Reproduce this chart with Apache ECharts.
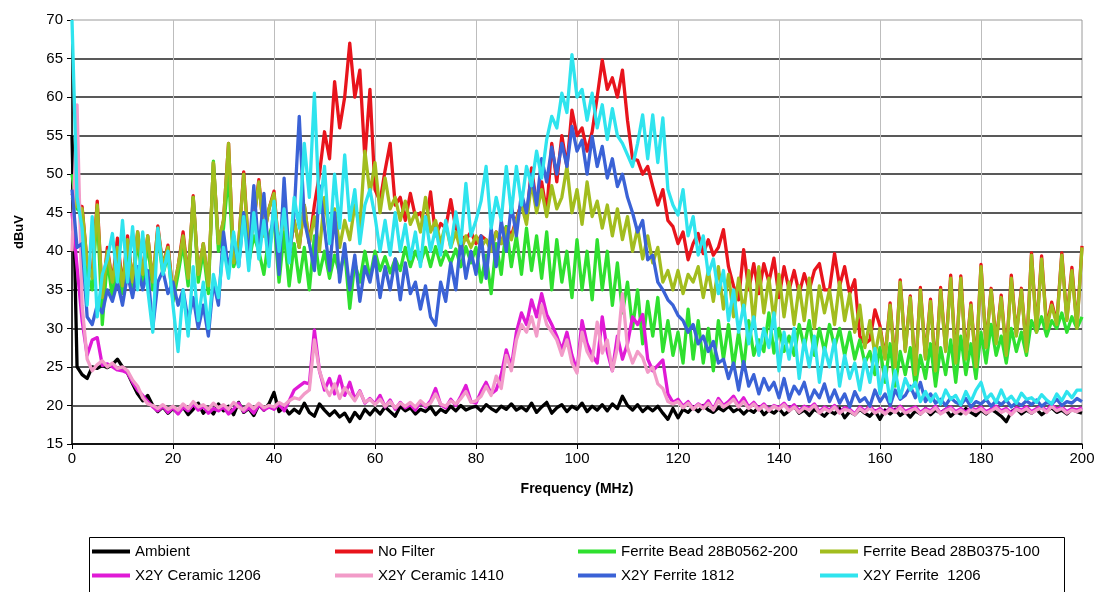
<!DOCTYPE html>
<html>
<head>
<meta charset="utf-8">
<script src="https://cdn.jsdelivr.net/npm/echarts@6/dist/echarts.min.js"></script>
<style>
html,body{margin:0;padding:0;background:#fff;}
#chart{width:1109px;height:592px;}
</style>
</head>
<body>
<div id="chart"></div>
<script>
// Frequency grid (MHz), 1 MHz steps from 0 to 200
const FREQ = Array.from({length: 201}, (_, i) => i);
const X_TICKS = [0, 20, 40, 60, 80, 100, 120, 140, 160, 180, 200];
const Y_TICKS = [15, 20, 25, 30, 35, 40, 45, 50, 55, 60, 65, 70];

const SERIES_NAMES = ['Ambient', 'No Filter', 'Ferrite Bead 28B0562-200', 'Ferrite Bead 28B0375-100',
  'X2Y Ceramic 1206', 'X2Y Ceramic 1410', 'X2Y Ferrite 1812', 'X2Y Ferrite  1206'];

const ambient = [55, 25, 24, 23.5, 25, 24.8, 25.2, 24.9, 25.3, 26,
25, 24.2, 22.8, 21.5, 20.6, 21.3, 20, 19.2, 19.8, 19,
19.6, 19, 19.8, 18.8, 19.5, 20.3, 19, 19.7, 18.9, 20.2,
19.3, 19.9, 18.8, 20.4, 19.1, 19.6, 18.7, 20.1, 19.4, 20.2,
21.7, 19.2, 19.8, 18.9, 19.5, 19, 20.3, 19.1, 18.6, 20.2,
19.4, 18.7, 19.3, 18.5, 19, 17.9, 19.1, 18.3, 19.5, 18.8,
19.6, 18.9, 19.8, 19.2, 18.6, 19.9, 19.3, 19.7, 18.9, 19.5,
19.2, 19.8, 18.8, 19.5, 19.1, 19.9, 19.3, 20, 19.4, 19.7,
19.9, 19.3, 20.1, 19.6, 19.2, 19.9, 19.5, 20.2, 19.4, 19.8,
19.3, 20.3, 19.1, 19.8, 20.4, 19, 19.7, 20.1, 19.2, 19.9,
19.5, 20.3, 19.2, 19.9, 19.4, 20.1, 19.3, 20.2, 19.6, 21.2,
20, 19.4, 20.1, 19.2, 19.8, 19.3, 19.9, 19, 18.2, 19.6,
18.4, 19.5, 19.1, 19.8, 19.2, 20, 19.4, 19.1, 19.7, 19.3,
19.9, 19.2, 19.6, 18.9, 19.5, 19.1, 19.8, 18.8, 19.4, 19,
19.6, 18.8, 19.3, 19.9, 19, 19.4, 18.7, 19.5, 19.1, 18.6,
19.3, 18.9, 19.6, 18.4, 19.2, 18.8, 19.5, 19, 18.6, 19.3,
18.2, 19.4, 18.9, 19.5, 18.7, 19.2, 18.5, 19.3, 18.9, 19.6,
18.8, 19.4, 19, 19.5, 18.6, 19.2, 18.9, 19.6, 19.1, 18.7,
19.4, 18.9, 19.5, 19.1, 18.6, 17.9, 19.2, 19.6, 18.9, 19.4,
19, 19.5, 18.8, 19.3, 19.7, 19.1, 19.4, 18.9, 19.5, 19.2,
19];

const noFilter = [47.5, 46, 45.8, 38.5, 37, 46.5, 34, 40.5, 36, 41.7,
35.5, 42, 36, 42.5, 37, 42, 36, 43.3, 38, 40.8,
34.5, 38, 42.5, 36.5, 47.2, 37, 41, 35.5, 51.5, 41,
44, 54, 38.5, 41, 50.3, 40, 44, 49.3, 42, 45.5,
47.8, 40, 45, 39.5, 44, 40.5, 46, 41, 46, 50,
55.5, 52, 62, 56, 60, 67, 60, 63.5, 52, 61,
48, 46.5, 50.5, 54, 46, 47, 44, 47.5, 44.5, 45,
43, 47.7, 42, 43.6, 43, 46.7, 43, 42, 41.5, 42.5,
41, 42, 41.5, 40.5, 42.5, 41, 43.2, 42, 44.2, 46.3,
44, 50.8, 46, 49, 45, 54, 49, 55, 51, 58.3,
55, 56, 53, 55.5, 60, 64.8, 61, 62.5, 60, 63.5,
57, 52, 51.8, 50, 51, 48.4, 46, 48, 44, 43.2,
41, 42.5, 38.9, 41, 42.3, 39.7, 41.5, 39.5, 40.5, 42.8,
38, 35.5, 33.7, 40.2, 35, 38.4, 34.5, 38.4, 36, 39.1,
34, 38, 35, 37.5, 34.5, 37.1, 35, 37.5, 38.4, 35,
35, 39.7, 35.5, 38, 34.5, 36.3, 29, 28, 28.5, 32.4,
30.3, 26.2, 33.3, 25.2, 36.3, 27.2, 34.2, 24.2, 35.3, 26.2,
33.8, 24.7, 35.3, 27.2, 36.9, 25.7, 36.8, 26.2, 33.3, 25.2,
38.3, 27.7, 35.2, 28.2, 34.3, 26.7, 36.9, 29.2, 35.2, 27.2,
39.8, 29.7, 39.4, 30.2, 33.4, 30.7, 39.8, 31.2, 37.9, 30.2,
40.7];

const ferrite200 = [50, 45.5, 45, 37, 35, 45.5, 30.5, 39, 34, 39,
34.5, 40.5, 35, 41.5, 36, 41, 35, 42, 37, 39.5,
33.5, 37, 41, 35.5, 47, 36, 40, 34.5, 51.7, 40,
43, 50, 38, 40, 45, 38.5, 42, 40, 37, 42,
44, 36, 42.5, 35.5, 41, 36, 40.5, 35, 42, 37,
40, 36.5, 39.5, 37, 40, 32.6, 38.5, 36, 40, 36.5,
40, 37.5, 39.3, 37.2, 39, 37.5, 40.5, 38, 40, 38.5,
40.5, 38, 40.6, 38.2, 40, 38.5, 40.3, 38, 40.6, 38.5,
40.5, 36, 39.5, 34.5, 41, 37, 43.2, 38, 42, 37,
43, 37.5, 42, 36.5, 42.5, 35, 41.5, 36, 40, 34,
41.5, 35, 40, 33.7, 41.5, 35, 40, 33, 38.5, 32,
36, 30, 35, 28, 33.5, 29, 34, 27, 31, 26.5,
29.5, 25.5, 32.5, 26, 31, 25.5, 30, 24.5, 31, 26,
30.5, 25, 29.5, 24.8, 31, 26.5, 28.5, 27, 32, 26.8,
30, 27, 29, 26.5, 30.5, 27.5, 31, 26.5, 30, 27,
30.5, 27.5, 30, 26.5, 29.5, 26, 28.5, 25.5, 27, 24,
27.5, 23, 28, 22.5, 27, 24, 27.5, 22.5, 26.5, 23.5,
28, 22.5, 27.5, 24, 28.5, 23, 29, 24, 28, 23.5,
29.5, 25.5, 30.5, 26.5, 29, 25.5, 30, 27, 29.5, 26.5,
31, 29.5, 31.5, 29, 31, 30, 32, 29.5, 31.5, 30,
31.5];

const ferrite100 = [47, 45.8, 45.5, 38.5, 36.5, 46, 34, 40, 36, 40.5,
35.5, 41.5, 36, 42.5, 37, 42, 36, 43, 38, 40.5,
34.5, 38, 42, 36.5, 47, 37, 41, 35.5, 51.5, 41,
44, 54, 38.5, 41, 50, 40, 44, 49, 42, 45.5,
47.5, 40, 45, 39.5, 44, 40.5, 46, 41, 44.5, 40,
47, 42, 45.5, 40.5, 44, 41.5, 46, 43, 53, 47.5,
51.5, 45, 49.5, 45.5, 47, 44, 46.5, 43.5, 45, 42.5,
47, 42.5, 44, 41, 43.5, 40.5, 42.5, 40, 42, 40.5,
42, 40.5, 41.5, 40, 42.5, 41, 43, 41.5, 44, 46,
43.5, 49, 45, 48, 44.5, 48.5, 45.5, 47, 51, 45,
48, 43.5, 49, 44.5, 46.5, 43, 46, 42, 45.5, 41.5,
44.5, 40, 43, 39, 42, 38.5, 40.5, 36, 37.5, 35,
37.5, 34.5, 37, 36, 38, 34, 37.5, 33.5, 38, 32.5,
37, 31.5, 36.5, 32, 37.5, 30.5, 38, 32, 36.5, 31,
37, 31.5, 36, 30.5, 35.5, 31, 36.5, 30, 35.5, 32,
35, 30.5, 36, 31, 34.5, 29.5, 33, 27.5, 31, 26.5,
30, 26, 33, 25, 36, 27, 34, 24, 35, 26,
33.5, 24.5, 35, 27, 36.5, 25.5, 36.5, 26, 33, 25,
38, 27.5, 35, 28, 34, 26.5, 36.5, 29, 35, 27,
39.5, 29.5, 39, 30, 33, 30.5, 39.5, 31, 37.5, 30,
40.5];

const ceramic1206 = [45, 38, 31, 26.5, 28.5, 28.8, 25.2, 25.4, 25, 24.6,
24.5, 24.2, 23, 22, 21.3, 20.5, 19.8, 19.3, 19.9, 19.1,
19.7, 18.9, 19.8, 19.3, 20.2, 19.4, 19.9, 19, 19.6, 19.3,
19.8, 18.9, 19.5, 20.3, 19.2, 19.7, 19, 20.1, 19.4, 19.8,
19.5, 20.2, 19.3, 20.6, 22, 22.5, 23, 22.8, 29.8, 24.5,
22, 23.5, 21.5, 23.8, 21.3, 23, 20.8, 21.9, 20.3, 20.9,
20.2, 21.3, 19.8, 20.7, 19.5, 20.4, 19.7, 20.1, 19.4, 20.5,
19.8, 20.6, 22.2, 20.1, 19.7, 20.8, 20, 21.2, 22.6, 20.5,
20.3, 21.8, 23, 21.5, 22, 24, 27.2, 25, 29.5, 32,
30.5, 33.7, 31.5, 34.5, 31.8, 30.5, 29, 27.2, 29.5, 26.5,
24.5, 31, 28, 26.5, 25.5, 31.5, 27, 24.5, 29, 26,
28, 31.5, 30.5, 31.8, 26, 24.5, 25.2, 25.9, 21.5, 20.4,
20.8, 19.9, 20.5, 19.6, 20.2, 19.8, 20.6, 19.5, 20.9, 20,
20.5, 21.2, 20.1, 21, 19.8, 20.4, 19.6, 20.2, 19.4, 20,
19.7, 20.3, 19.5, 20.1, 19.3, 19.9, 19.6, 20.2, 19.2, 19.8,
19.4, 20, 19.1, 19.7, 19.5, 18.9, 19.8, 19.3, 19.9, 19.2,
19.6, 19, 19.7, 19.3, 19.9, 19.2, 19.5, 19.8, 19.1, 19.6,
19.3, 19.9, 19, 19.5, 19.8, 19.2, 19.6, 19.1, 19.7, 19.4,
19.8, 19.2, 19.5, 19.9, 19.3, 19.6, 19, 19.7, 19.4, 19.8,
19.2, 19.6, 19.9, 19.3, 20.1, 19.5, 19.8, 19.2, 19.6, 19.4,
19.7];

const ceramic1410 = [40, 59, 33, 26, 24.5, 25.3, 25.8, 25, 25.5, 24.8,
25, 24.5, 23.3, 22.5, 21, 20.2, 20, 19.6, 20.1, 19.5,
19.9, 19.4, 20.2, 19.6, 20.5, 19.8, 20.1, 19.5, 20.3, 19.7,
20.1, 19.5, 20.4, 19.8, 19.4, 20.2, 19.6, 20.3, 19.7, 20,
19.8, 20.4, 20, 20.6, 21, 20.8, 21.5, 22, 28.5, 24.5,
22.5, 21.3, 22.8, 20.9, 22.3, 21.5, 20.6, 21.8, 20.4, 20.8,
20.1, 20.8, 19.9, 20.5, 19.7, 20.3, 19.9, 20.4, 19.8, 20.6,
20, 20.3, 21.5, 20.2, 19.9, 20.6, 20.2, 20.9, 21.8, 20.4,
20.6, 21.2, 22.5, 21.3, 23.8, 22.2, 26.5, 24.5, 28.5, 30.5,
29.5, 31.5, 29, 33, 30.5, 29.5, 28.5, 26.5, 28.5, 25.5,
24.2, 29.5, 27, 25.8, 30.8, 26.8, 28.5, 24.5, 27.5, 34.5,
27.5, 25.5, 27, 26.2, 24.3, 25, 22.8, 22.2, 20.5, 20.2,
20.5, 19.7, 20.3, 19.5, 20.1, 19.6, 20.3, 19.4, 20.6, 19.8,
20.2, 20.8, 19.8, 20.5, 19.6, 20.2, 19.4, 20, 19.3, 19.9,
19.5, 20.1, 19.3, 19.8, 19.1, 19.7, 19.4, 20, 19, 19.6,
19.2, 19.8, 19, 19.5, 19.3, 18.8, 19.6, 19.1, 19.7, 19,
19.4, 18.9, 19.5, 19.1, 19.7, 19, 19.3, 19.6, 18.9, 19.4,
19.1, 19.7, 18.9, 19.3, 19.6, 19, 19.4, 18.9, 19.5, 19.2,
19.6, 19, 19.3, 19.7, 19.1, 19.4, 18.8, 19.5, 19.2, 19.6,
19, 19.4, 19.7, 19.1, 19.9, 19.3, 19.6, 19, 19.4, 19.2,
19.5];

const ferrite1812 = [48, 40.5, 41, 31.5, 30.5, 33, 32, 35, 33.5, 36,
33, 37, 34, 38, 35, 37.5, 30, 36, 37.5, 34.5,
36, 33, 35, 31, 34, 30, 33, 29, 36, 33,
42.5, 37.5, 42, 38, 45, 39, 48.5, 40, 47.5, 39,
46, 37, 49.5, 39, 45, 57.5, 44, 41, 37.5, 48.5,
43, 37.5, 45, 36, 41, 35, 39.5, 33.5, 38, 36,
39.3, 34, 38, 35, 39, 33.7, 38.5, 34.5, 36, 32.5,
35.5, 31.5, 30.4, 36, 33.5, 38.5, 35, 41.5, 36.5, 40,
37, 42, 36.5, 43, 38, 44, 40, 46, 42, 47.5,
45, 50, 46, 52, 49, 53.5, 50, 54, 51, 56.2,
53, 54.4, 50, 54.9, 51, 53.6, 49.5, 52, 48.4, 50,
47, 45, 42.5, 44, 38.9, 39.5, 36, 35, 33.7, 33,
31.7, 31, 29.5, 30.5, 28, 29, 27, 28.3, 25.5, 26,
23.5, 25.5, 22, 25.7, 22.5, 24, 21.5, 23.5, 22, 23,
21, 23.5, 20.8, 22.5, 21.5, 23, 20.5, 22, 21, 22.8,
20.5, 22, 20.3, 21.5, 19.8, 21.8, 20.5, 21, 19.9, 22,
20.5, 21.5, 20, 22, 20.8, 21.3, 22.5, 21, 23, 20.5,
21.5, 20.3, 20.8, 20, 21, 20.4, 20.1, 20.9, 19.8, 20.5,
20.2, 20.8, 19.9, 20.6, 20.1, 20.7, 19.8, 20.4, 20, 20.6,
20.1, 20.7, 19.9, 20.4, 20.2, 20.8, 20, 20.5, 20.3, 20.9,
20.5];

const ferrite1206 = [70, 47, 43, 33, 44.5, 31.5, 37, 39, 42.3, 36,
44, 36, 43.2, 35, 42.5, 35, 29.5, 43, 37, 40,
33, 27, 35, 29, 38, 31, 36, 30, 37, 34,
40.5, 36.5, 42.5, 38, 44.5, 37.5, 45, 39, 44, 38,
46.5, 40, 45.5, 38.5, 47, 43, 54, 47, 60.5, 45,
51, 41, 50, 43, 52.5, 44, 48, 41, 46, 48,
44.5, 40, 44, 39.5, 45, 40, 43.5, 39, 42.5, 38,
44.5, 40, 43, 39.5, 44, 40.5, 45.1, 41, 48.8, 42,
44, 46.5, 51, 43, 47, 44, 51, 45, 51, 46,
51, 48.5, 53, 49.5, 54.5, 57.5, 56, 60.5, 58, 65.5,
60, 61, 57, 60.5, 56, 59, 54.5, 58.5, 55, 54,
52.5, 51, 54, 57.7, 52, 57.7, 51.5, 57.3, 48, 46,
44.7, 48, 42, 44.5, 39.5, 42, 37, 39, 34.5, 37.5,
31, 35, 29.5, 33, 28, 31.5, 26.5, 30, 27.5, 32,
24.5, 29.5, 26, 30, 23.5, 28.5, 25, 29, 23, 27.5,
25, 28.5, 22.5, 26.5, 23.5, 25.5, 22, 26, 23, 27.4,
21.5, 25, 20.5, 24.5, 21, 23.5, 22, 23, 20.5, 21.8,
20.5, 21.5, 20.2, 22, 20.8, 21.3, 20.1, 21.8, 20.5, 22,
23, 20.8, 21.5, 20.4, 22, 20.6, 21.2, 20.3, 21.6, 20.8,
21, 20.4, 21.4, 20.7, 20.2, 21.5, 20.6, 21.8, 21, 22,
22];

const SERIES_VALUES = [ambient, noFilter, ferrite200, ferrite100, ceramic1206, ceramic1410, ferrite1812, ferrite1206];
const COLORS = ['#000000', '#e8141c', '#2fe02f', '#a2bd1e', '#e01ad6', '#f29bc8', '#3a62d6', '#2fe4ee'];

const FONT = "'Liberation Sans', Arial, sans-serif";

const chart = echarts.init(document.getElementById('chart'), null, {renderer: 'canvas'});

const series = SERIES_NAMES.map((name, k) => ({
  name: name,
  type: 'line',
  data: FREQ.map((f, i) => [f, SERIES_VALUES[k][i]]),
  showSymbol: false,
  symbol: 'none',
  lineStyle: {width: 3.3, color: COLORS[k], join: 'round'},
  itemStyle: {color: COLORS[k]},
  emphasis: {disabled: true},
  silent: true,
  animation: false
}));

const colX = [92, 335, 578, 820];
const rowY = [544, 568];
const legends = SERIES_NAMES.map((name, k) => ({
  data: [name],
  left: colX[k % 4],
  top: rowY[Math.floor(k / 4)],
  orient: 'horizontal',
  icon: 'rect',
  itemWidth: 38,
  itemHeight: 4,
  padding: 0,
  selectedMode: false,
  textStyle: {fontFamily: FONT, fontSize: 15, color: '#000'}
}));

chart.setOption({
  backgroundColor: '#ffffff',
  animation: false,
  grid: {left: 72, right: 27, top: 20, bottom: 148, show: true, borderColor: '#9a9a9a', borderWidth: 1},
  xAxis: {
    type: 'value', min: X_TICKS[0], max: X_TICKS[X_TICKS.length - 1], interval: 20,
    name: 'Frequency (MHz)', nameLocation: 'middle', nameGap: 38,
    nameTextStyle: {fontFamily: FONT, fontSize: 14, fontWeight: 'bold', color: '#000'},
    axisLine: {show: true, onZero: false, lineStyle: {color: '#000', width: 1.5}},
    axisTick: {show: true, length: 5, lineStyle: {color: '#000'}},
    axisLabel: {fontFamily: FONT, fontSize: 15, color: '#000', margin: 7},
    splitLine: {show: true, showMaxLine: false, lineStyle: {color: '#bdbdbd', width: 1}}
  },
  yAxis: {
    type: 'value', min: Y_TICKS[0], max: Y_TICKS[Y_TICKS.length - 1], interval: 5,
    name: 'dBuV', nameLocation: 'middle', nameGap: 46, nameRotate: 90,
    nameTextStyle: {fontFamily: FONT, fontSize: 13, fontWeight: 'bold', color: '#000'},
    axisLine: {show: true, lineStyle: {color: '#000', width: 1.5}},
    axisTick: {show: true, length: 5, lineStyle: {color: '#000'}},
    axisLabel: {fontFamily: FONT, fontSize: 15, color: '#000', margin: 9},
    splitLine: {show: true, showMaxLine: false, lineStyle: {color: '#222', width: 1.6}}
  },
  legend: legends,
  graphic: [{
    type: 'rect', left: 87, top: 535, silent: true,
    shape: {width: 975, height: 55},
    style: {fill: 'none', stroke: '#000', lineWidth: 1}
  }],
  series: series
});
</script>
</body>
</html>
